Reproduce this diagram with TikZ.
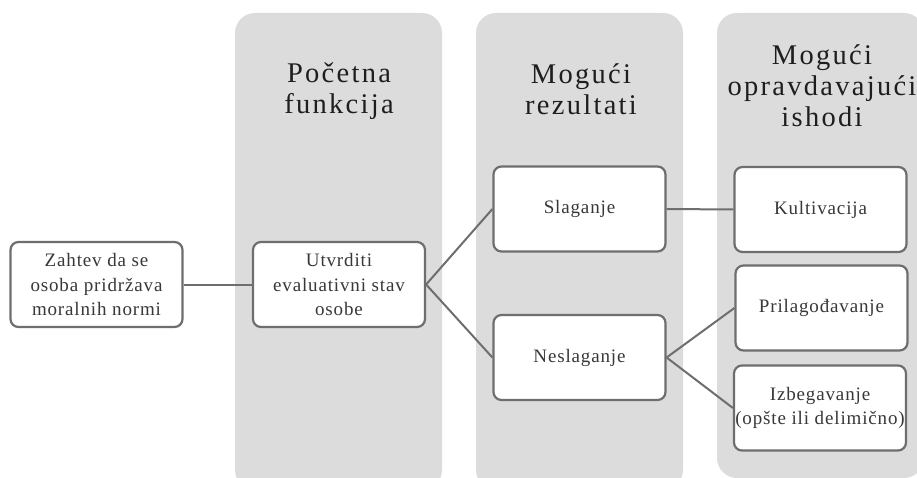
\documentclass[tikz,border=0pt]{standalone}
\usepackage{fontspec}
\newfontfamily\boxfam{Liberation Serif}[LetterSpace=4.5]
\newfontfamily\titlefam{Liberation Serif}[LetterSpace=8]
\definecolor{colfill}{HTML}{DCDCDD}
\definecolor{linegray}{HTML}{6E6E6E}
\definecolor{boxtext}{HTML}{383838}
\definecolor{titletext}{HTML}{1E1E1E}
\newcommand{\boxfnt}{\boxfam\fontsize{19}{24}\selectfont}
\newcommand{\titlefnt}{\titlefam\fontsize{28.5}{31}\selectfont}
\tikzset{
  column/.style={fill=colfill, draw=none, rounded corners=20pt},
  stepbox/.style={draw=linegray, line width=2.2pt, rounded corners=8pt, fill=white,
    minimum width=172pt, minimum height=85pt, align=center, text=boxtext, font=\boxfnt, inner sep=0pt},
  coltitle/.style={align=center, text=titletext, font=\titlefnt, inner sep=0pt},
  conn/.style={draw=linegray, line width=2pt}
}
\begin{document}
\begin{tikzpicture}[x=1pt,y=-1pt]
\useasboundingbox (0,0) rectangle (917,478);
\fill[white] (0,0) rectangle (917,478);
% columns
\path[column] (235,13) rectangle (442,490);
\path[column] (476,13) rectangle (683,490);
\path[column] (717,13) rectangle (924,478);
% titles
\node[coltitle] (t1) at (339,91) {Početna\\funkcija};
\node[coltitle] (t2) at (581,89) {Mogući\\rezultati};
\node[coltitle] (t3) at (822,86) {Mogući\\opravdavajući\\ishodi};
% boxes
\node[stepbox] (a) at (96.5,284.5) {Zahtev da se\\osoba pridržava\\moralnih normi};
\node[stepbox] (b) at (339,284.5) {Utvrditi\\evaluativni stav\\osobe};
\node[stepbox] (s) at (579.5,209) {Slaganje};
\node[stepbox] (n) at (579.5,357.5) {Neslaganje};
\node[stepbox] (k) at (820.5,209.5) {Kultivacija};
\node[stepbox] (p) at (821.5,308) {Prilagođavanje};
\node[stepbox] (i) at (820,408) {Izbegavanje\\(opšte ili delimično)};
% connectors
\draw[conn] (a.east) -- (b.west);
\draw[conn] (b.east) -- (s.west);
\draw[conn] (b.east) -- (n.west);
\draw[conn] (s.east) -- (k.west);
\draw[conn] (n.east) -- (p.west);
\draw[conn] (n.east) -- (i.west);
\end{tikzpicture}
\end{document}
